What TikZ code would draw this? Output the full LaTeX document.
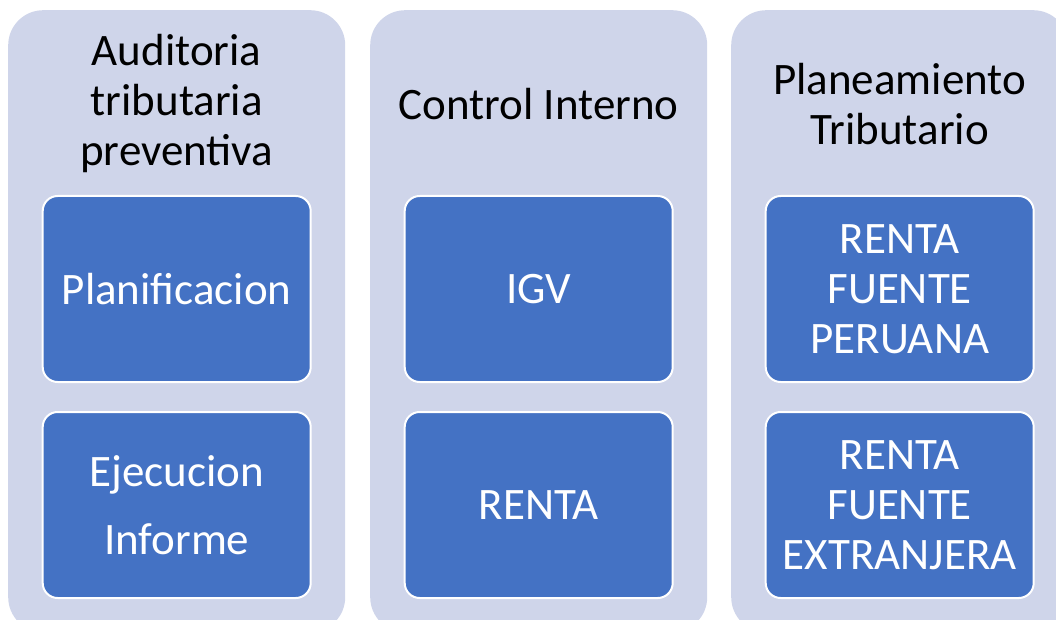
\documentclass[tikz,border=0pt]{standalone}
\usepackage{fontspec}
\setmainfont{Carlito}
\usepackage{xcolor}
\definecolor{colFondo}{HTML}{CFD5EA}
\definecolor{colAzul}{HTML}{4472C4}
\usepackage{tikz}
\usetikzlibrary{positioning}

\begin{document}
\begin{tikzpicture}[x=1pt, y=-1pt, node distance=28pt,
    columna/.style={rectangle, rounded corners=35pt, fill=colFondo, draw=none,
        inner sep=0pt, minimum width=337pt, minimum height=622pt, anchor=north west},
    titulo/.style={align=center, text=black, font=\fontsize{45}{50}\selectfont},
    caja/.style={rectangle, rounded corners=15pt, fill=colAzul, draw=white,
        line width=2pt, text=white, align=center, inner sep=0pt,
        minimum width=268pt, minimum height=186pt,
        font=\fontsize{45}{50}\selectfont}]
    \clip (0,0) rectangle (1056,620);
    % Columnas
    \node[columna] (C1) at (8,10) {};
    \node[columna] (C2) at (370,10) {};
    \node[columna] (C3) at (731,10) {};
    % Auditoria
    \node[titulo] (T1) at ([yshift=-94pt]C1.north) {Auditoria\\tributaria\\preventiva};
    \node[caja, below=185pt of C1.north] (A1) {Planificacion};
    \node[caja, below=of A1] (A2) {Ejecucion\\[18pt]Informe};
    % Control interno
    \node[titulo] (T2) at ([yshift=-94pt]C2.north) {Control Interno};
    \node[caja, below=185pt of C2.north] (B1) {IGV};
    \node[caja, below=of B1] (B2) {RENTA};
    % Planeamiento
    \node[titulo] (T3) at ([yshift=-94pt]C3.north) {Planeamiento\\Tributario};
    \node[caja, below=185pt of C3.north] (P1) {RENTA\\FUENTE\\PERUANA};
    \node[caja, below=of P1] (P2) {RENTA\\FUENTE\\EXTRANJERA};
\end{tikzpicture}
\end{document}
